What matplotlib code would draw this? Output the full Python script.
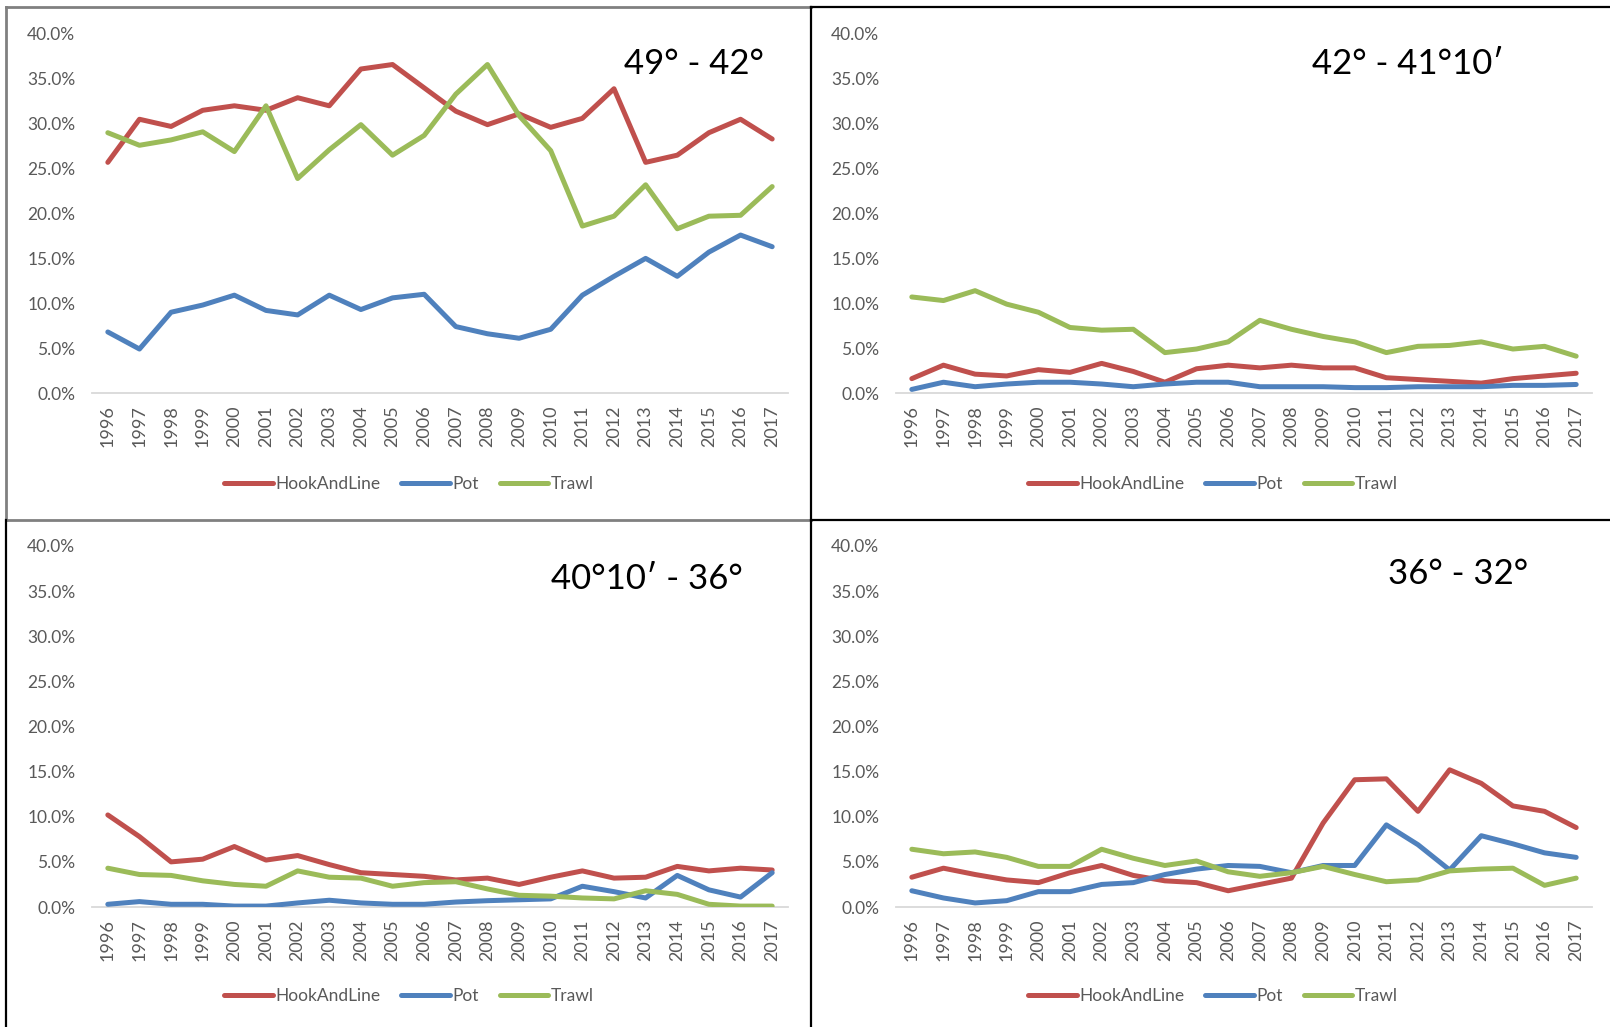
import matplotlib.pyplot as plt
from matplotlib.ticker import PercentFormatter
from matplotlib.lines import Line2D

years = [str(y) for y in range(1996, 2018)]
gears = ['HookAndLine', 'Pot', 'Trawl']
colors = ['#C0504D', '#4F81BD', '#9BBB59']

## 49 - 42
hook_1 = [25.7, 30.5, 29.7, 31.5, 32.0, 31.5, 32.9, 32.0, 36.1, 36.6, 34.0,
          31.4, 29.9, 31.1, 29.6, 30.6, 33.9, 25.7, 26.5, 29.0, 30.5, 28.3]
pot_1 = [6.8, 4.9, 9.0, 9.8, 10.9, 9.2, 8.7, 10.9, 9.3, 10.6, 11.0,
         7.4, 6.6, 6.1, 7.1, 10.9, 13.0, 15.0, 13.0, 15.7, 17.6, 16.3]
trawl_1 = [29.0, 27.6, 28.2, 29.1, 26.9, 32.0, 23.9, 27.1, 29.9, 26.5, 28.7,
           33.3, 36.6, 30.9, 27.0, 18.6, 19.7, 23.2, 18.3, 19.7, 19.8, 23.0]

## 42 - 41 10
hook_2 = [1.6, 3.1, 2.1, 1.9, 2.6, 2.3, 3.3, 2.4, 1.2, 2.7, 3.1,
          2.8, 3.1, 2.8, 2.8, 1.7, 1.5, 1.3, 1.1, 1.6, 1.9, 2.2]
pot_2 = [0.4, 1.2, 0.7, 1.0, 1.2, 1.2, 1.0, 0.7, 1.0, 1.2, 1.2,
         0.7, 0.7, 0.7, 0.6, 0.6, 0.7, 0.7, 0.7, 0.85, 0.85, 0.95]
trawl_2 = [10.7, 10.3, 11.4, 9.9, 9.0, 7.3, 7.0, 7.1, 4.5, 4.9, 5.7,
           8.1, 7.1, 6.3, 5.7, 4.5, 5.2, 5.3, 5.7, 4.9, 5.2, 4.1]

## 40 10 - 36
hook_3 = [10.2, 7.8, 5.0, 5.3, 6.7, 5.2, 5.7, 4.7, 3.8, 3.6, 3.4,
          3.0, 3.2, 2.5, 3.3, 4.0, 3.2, 3.3, 4.5, 4.0, 4.3, 4.1]
pot_3 = [0.3, 0.6, 0.3, 0.3, 0.1, 0.1, 0.45, 0.75, 0.45, 0.3, 0.3,
         0.55, 0.7, 0.8, 0.9, 2.3, 1.7, 1.0, 3.5, 1.9, 1.1, 3.8]
trawl_3 = [4.3, 3.6, 3.5, 2.9, 2.5, 2.3, 4.0, 3.3, 3.2, 2.3, 2.7,
           2.8, 2.0, 1.3, 1.2, 1.0, 0.9, 1.8, 1.4, 0.3, 0.1, 0.1]

## 36 - 32
hook_4 = [3.3, 4.3, 3.6, 3.0, 2.7, 3.8, 4.6, 3.5, 2.9, 2.7, 1.8,
          2.5, 3.2, 9.3, 14.1, 14.2, 10.6, 15.2, 13.7, 11.2, 10.6, 8.8]
pot_4 = [1.8, 1.0, 0.45, 0.7, 1.7, 1.7, 2.5, 2.7, 3.6, 4.2, 4.6,
         4.5, 3.8, 4.6, 4.6, 9.1, 6.9, 4.1, 7.9, 7.0, 6.0, 5.5]
trawl_4 = [6.4, 5.9, 6.1, 5.5, 4.5, 4.5, 6.4, 5.4, 4.6, 5.1, 3.9,
           3.4, 3.8, 4.5, 3.6, 2.8, 3.0, 4.0, 4.2, 4.3, 2.4, 3.2]

titles = ['49° - 42°', '42° - 41°10′', '40°10′ - 36°', '36° - 32°']
panels = [(hook_1, pot_1, trawl_1), (hook_2, pot_2, trawl_2),
          (hook_3, pot_3, trawl_3), (hook_4, pot_4, trawl_4)]

plt.rcParams['font.family'] = ['Lato', 'DejaVu Sans']

W, H = 1610, 1027
fig = plt.figure(figsize=(W / 100, H / 100), dpi=100)

# axes boxes in pixels: left, top, right, bottom
boxes = [(92, 34, 788, 393), (896, 34, 1592, 393),
         (92, 546, 788, 907), (896, 546, 1592, 907)]
title_pos = [(694, 64), (1408, 64), (647, 579), (1458, 574)]
legend_x = [409, 1213, 409, 1213]
legend_y = [484, 484, 996, 996]

grey = '#595959'
for i, (l, t, r, b) in enumerate(boxes):
    ax = fig.add_axes([l / W, 1 - b / H, (r - l) / W, (b - t) / H])
    for vals, c, name in zip(panels[i], colors, gears):
        ax.plot(years, vals, color=c, lw=3.6, label=name,
                solid_joinstyle='round', solid_capstyle='round')
    ax.set_xlim(-0.5, len(years) - 0.5)
    ax.set_ylim(0, 40)
    ax.set_yticks(range(0, 45, 5))
    ax.yaxis.set_major_formatter(PercentFormatter(decimals=1))
    for s in ['top', 'right', 'left']:
        ax.spines[s].set_visible(False)
    ax.spines['bottom'].set_color('#D9D9D9')
    ax.spines['bottom'].set_linewidth(1.3)
    ax.spines['bottom'].set_zorder(0)
    ax.tick_params(axis='y', length=0, pad=12, labelsize=12.5, labelcolor=grey)
    ax.tick_params(axis='x', length=0, pad=9, labelsize=13, labelcolor=grey,
                   labelrotation=90)
    ax.patch.set_alpha(0)
    fig.text(title_pos[i][0] / W, 1 - title_pos[i][1] / H, titles[i],
             fontsize=25, ha='center', va='center', color='black')
    fig.legend(handles=ax.get_lines(), labels=gears,
               loc='center', bbox_to_anchor=(legend_x[i] / W, 1 - legend_y[i] / H),
               ncol=3, frameon=False, fontsize=12.5, handlelength=2.8,
               handletextpad=0.15, columnspacing=1.2, labelcolor=grey)

# panel borders
def seg(x0, y0, x1, y1, c, lw):
    fig.add_artist(Line2D([x0 / W, x1 / W], [1 - y0 / H, 1 - y1 / H],
                          color=c, lw=lw, transform=fig.transFigure))

seg(6, 7, 811, 7, '#808080', 2)
seg(6, 7, 6, 520, '#808080', 2)
seg(6, 520, 811, 520, '#808080', 2)
seg(811, 7, 1610, 7, 'black', 1.6)
seg(811, 520, 1610, 520, 'black', 1.6)
seg(811, 7, 811, 1027, 'black', 1.6)
seg(6, 520, 6, 1027, 'black', 1.6)

fig.savefig('out.png', dpi=100)
